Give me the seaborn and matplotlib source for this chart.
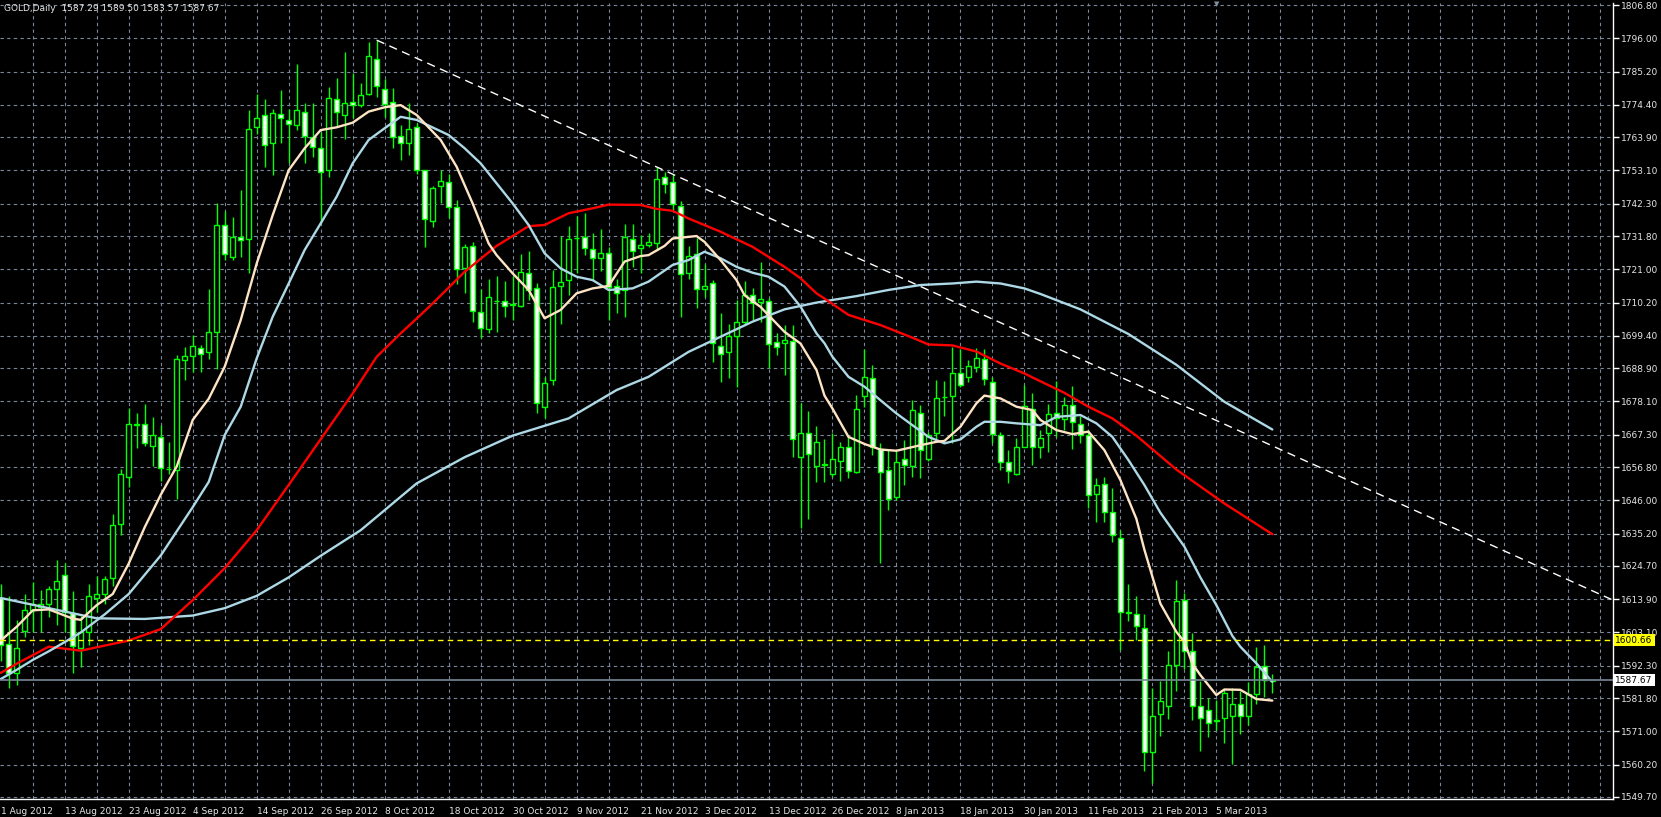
import numpy as np
import pandas as pd
import matplotlib
matplotlib.use("Agg")
import matplotlib.pyplot as plt
import seaborn as sns

# daily OHLC, one bar per trading day from 1 Aug 2012
opens = [1614.3, 1599.4, 1590.0, 1603.5, 1610.3, 1611.4, 1612.3, 1617.3, 1621.9, 1609.4,
         1598.2, 1603.1, 1614.4, 1615.6, 1620.8, 1638.3, 1653.6, 1670.5, 1670.8, 1663.8,
         1666.6, 1656.3, 1655.9, 1691.7, 1692.7, 1695.5, 1694.0, 1700.8, 1735.4, 1725.1,
         1731.4, 1731.0, 1767.3, 1771.0, 1761.9, 1771.3, 1769.5, 1767.8, 1772.0, 1763.8,
         1760.3, 1753.4, 1776.4, 1771.1, 1775.2, 1774.3, 1777.8, 1789.4, 1779.4, 1775.2,
         1764.3, 1761.9, 1767.3, 1753.4, 1736.6, 1748.0, 1749.5, 1741.1, 1721.3, 1728.7,
         1707.0, 1701.5, 1710.6, 1710.8, 1709.4, 1709.1, 1719.9, 1715.0, 1676.4, 1685.0,
         1715.7, 1717.5, 1731.1, 1731.6, 1727.7, 1724.6, 1726.2, 1715.7, 1714.3, 1731.0,
         1727.8, 1729.0, 1729.4, 1751.1, 1749.5, 1741.4, 1719.7, 1725.9, 1714.6, 1716.4,
         1696.2, 1694.0, 1699.3, 1704.0, 1712.6, 1710.4, 1710.8, 1697.4, 1697.0, 1697.7,
         1660.0, 1668.0, 1657.0, 1657.5, 1654.7, 1658.9, 1663.2, 1655.1, 1679.8, 1685.6,
         1662.6, 1655.8, 1647.2, 1659.5, 1657.3, 1674.2, 1659.3, 1667.7, 1679.4, 1680.0,
         1687.2, 1686.1, 1689.2, 1691.8, 1684.3, 1667.2, 1658.3, 1654.7, 1663.4, 1675.8,
         1663.4, 1668.0, 1674.2, 1672.3, 1677.1, 1670.8, 1667.2, 1647.9, 1651.2, 1642.3,
         1633.9, 1609.4, 1609.0, 1604.4, 1564.4, 1576.8, 1579.3, 1592.7, 1613.8, 1597.1,
         1579.4, 1578.0, 1574.5, 1575.5, 1576.0, 1580.0, 1576.0, 1583.0, 1592.3, 1587.29]
highs = [1618.8, 1615.0, 1607.0, 1615.6, 1619.6, 1617.0, 1618.2, 1626.5, 1625.7, 1616.5,
         1608.4, 1618.9, 1621.4, 1621.4, 1641.6, 1656.3, 1676.0, 1674.4, 1677.3, 1673.0,
         1670.4, 1664.9, 1693.1, 1695.7, 1699.7, 1696.5, 1714.6, 1742.4, 1740.0, 1737.9,
         1746.7, 1772.7, 1777.9, 1776.2, 1773.2, 1779.2, 1773.2, 1787.6, 1774.9, 1774.9,
         1765.7, 1780.1, 1783.0, 1791.6, 1784.8, 1781.6, 1794.9, 1795.4, 1782.7, 1779.7,
         1768.0, 1774.9, 1768.4, 1753.4, 1748.0, 1753.4, 1752.1, 1743.5, 1729.1, 1730.0,
         1714.5, 1717.7, 1718.8, 1717.2, 1718.8, 1725.9, 1727.0, 1716.6, 1686.1, 1720.8,
         1731.8, 1735.0, 1738.3, 1739.4, 1732.9, 1734.0, 1728.3, 1718.0, 1735.7, 1735.7,
         1732.1, 1732.7, 1754.3, 1752.7, 1752.1, 1743.2, 1728.5, 1731.3, 1722.7, 1717.5,
         1706.7, 1703.4, 1711.0, 1717.2, 1714.8, 1723.3, 1711.6, 1700.2, 1702.9, 1702.9,
         1677.5, 1675.0, 1670.0, 1665.9, 1667.8, 1665.1, 1666.6, 1680.2, 1695.1, 1689.9,
         1664.5, 1662.5, 1662.3, 1665.6, 1678.5, 1676.9, 1668.3, 1685.0, 1684.7, 1695.9,
         1695.0, 1691.5, 1695.3, 1695.1, 1686.1, 1668.1, 1662.3, 1666.1, 1683.6, 1680.7,
         1668.8, 1677.2, 1684.8, 1679.6, 1683.1, 1673.3, 1668.8, 1653.1, 1653.6, 1650.1,
         1636.3, 1618.8, 1614.9, 1609.0, 1585.0, 1587.4, 1597.2, 1620.1, 1615.8, 1603.0,
         1587.4, 1581.7, 1581.2, 1584.9, 1585.0, 1584.0, 1587.0, 1598.3, 1599.0, 1589.50]
lows = [1594.0, 1585.0, 1586.0, 1601.8, 1603.1, 1603.1, 1608.1, 1605.5, 1603.1, 1590.0,
        1592.0, 1599.2, 1609.7, 1612.3, 1618.2, 1634.6, 1650.4, 1663.0, 1663.8, 1657.1,
        1652.4, 1654.4, 1646.4, 1685.0, 1687.8, 1687.8, 1691.8, 1688.8, 1724.0, 1724.0,
        1725.1, 1719.9, 1764.9, 1754.1, 1751.6, 1762.1, 1755.4, 1766.2, 1755.4, 1757.6,
        1735.9, 1751.1, 1767.3, 1763.2, 1770.0, 1773.6, 1777.5, 1777.0, 1770.5, 1760.3,
        1756.5, 1758.1, 1751.9, 1728.3, 1734.6, 1742.6, 1737.5, 1716.1, 1713.2, 1703.8,
        1698.6, 1700.4, 1700.5, 1705.6, 1704.5, 1708.9, 1711.0, 1674.2, 1672.6, 1683.4,
        1703.2, 1712.6, 1719.7, 1725.6, 1717.5, 1720.5, 1704.5, 1706.7, 1705.6, 1721.8,
        1719.9, 1728.3, 1727.3, 1745.9, 1740.2, 1705.6, 1717.7, 1708.3, 1712.1, 1691.0,
        1684.5, 1685.6, 1682.9, 1702.9, 1704.5, 1704.0, 1689.1, 1693.2, 1686.7, 1660.0,
        1637.0, 1640.0, 1652.0, 1651.8, 1653.6, 1652.4, 1653.4, 1655.0, 1676.4, 1660.7,
        1625.5, 1642.8, 1646.1, 1651.0, 1653.7, 1653.4, 1658.9, 1665.6, 1673.5, 1664.5,
        1682.9, 1684.5, 1687.7, 1683.4, 1664.7, 1655.8, 1651.7, 1654.2, 1663.2, 1657.4,
        1659.9, 1661.8, 1666.6, 1668.8, 1662.8, 1664.7, 1643.4, 1639.0, 1639.0, 1632.5,
        1597.4, 1606.8, 1600.6, 1558.2, 1554.3, 1569.6, 1575.0, 1584.2, 1591.4, 1574.7,
        1564.7, 1569.3, 1571.4, 1567.1, 1560.5, 1570.0, 1573.0, 1580.0, 1582.0, 1583.57]
closes = [1599.2, 1590.0, 1598.0, 1610.3, 1612.3, 1612.3, 1617.3, 1619.9, 1609.7, 1598.8,
          1603.1, 1614.9, 1615.5, 1620.6, 1637.9, 1654.6, 1670.8, 1670.8, 1664.5, 1667.2,
          1656.6, 1656.1, 1691.8, 1692.7, 1696.0, 1693.5, 1700.6, 1735.4, 1725.9, 1731.6,
          1730.4, 1766.4, 1770.0, 1761.2, 1771.6, 1770.0, 1768.1, 1772.6, 1764.3, 1760.8,
          1752.5, 1776.7, 1772.0, 1774.9, 1774.3, 1777.7, 1790.2, 1780.5, 1774.7, 1763.8,
          1762.1, 1766.6, 1753.4, 1737.3, 1747.3, 1749.8, 1741.1, 1721.1, 1728.3, 1707.5,
          1701.8, 1711.9, 1710.8, 1709.1, 1709.6, 1720.2, 1714.3, 1677.5, 1684.2, 1715.3,
          1717.0, 1731.0, 1731.3, 1727.9, 1724.6, 1726.2, 1715.3, 1713.3, 1731.4, 1727.0,
          1728.8, 1729.9, 1750.2, 1748.7, 1742.1, 1719.4, 1725.4, 1714.6, 1715.5, 1697.2,
          1693.5, 1699.4, 1704.0, 1712.6, 1710.0, 1711.2, 1696.7, 1695.7, 1698.0, 1666.0,
          1668.0, 1661.0, 1665.0, 1657.7, 1659.3, 1663.4, 1655.4, 1675.8, 1686.1, 1663.4,
          1655.1, 1646.3, 1658.6, 1657.4, 1675.3, 1662.5, 1667.2, 1679.1, 1679.6, 1687.2,
          1683.6, 1689.7, 1692.1, 1685.3, 1667.4, 1658.3, 1655.5, 1663.2, 1676.6, 1663.4,
          1666.4, 1673.9, 1672.8, 1677.1, 1671.3, 1667.2, 1647.7, 1650.9, 1642.2, 1634.7,
          1609.6, 1609.8, 1605.2, 1564.2, 1576.0, 1581.0, 1592.7, 1613.3, 1597.1, 1579.3,
          1575.2, 1573.6, 1574.7, 1583.3, 1580.0, 1576.0, 1583.0, 1592.0, 1587.6, 1587.67]

# moving averages (bar index, price)
ma_fast_x = [0, 2, 4, 6, 9, 10, 12, 14, 16, 18, 20, 22, 24, 26, 28, 30, 32, 34, 36, 38, 40, 42, 44, 46,
             48, 50, 52, 55, 57, 59, 61, 62, 64, 66, 68, 70, 72, 74, 76, 78, 80, 81, 83, 84, 87, 88, 90,
             92, 93, 95, 96, 98, 100, 102, 103, 104, 106, 108, 110, 112, 115, 117, 118, 120, 122, 123,
             125, 127, 129, 130, 132, 134, 136, 138, 140, 142, 143, 145, 147, 148, 149, 150, 152, 153,
             155, 157, 159]
ma_fast_y = [1600.5, 1605.0, 1610.3, 1610.6, 1607.6, 1607.2, 1612.0, 1615.6, 1625.5, 1637.3, 1647.8,
             1657.0, 1672.1, 1679.0, 1689.4, 1704.5, 1722.9, 1738.6, 1753.2, 1760.3, 1766.2, 1767.1,
             1768.6, 1772.2, 1773.6, 1774.3, 1771.1, 1763.0, 1754.3, 1742.4, 1729.4, 1725.6, 1719.7,
             1714.3, 1705.1, 1707.8, 1713.2, 1714.8, 1715.6, 1723.5, 1725.3, 1725.6, 1728.6, 1731.0,
             1731.8, 1729.9, 1724.0, 1717.5, 1712.6, 1708.8, 1706.1, 1700.7, 1696.9, 1688.3, 1680.0,
             1675.8, 1666.6, 1664.3, 1662.5, 1662.1, 1663.9, 1665.0, 1665.3, 1669.9, 1677.5, 1680.0,
             1679.1, 1676.4, 1675.3, 1672.1, 1668.8, 1667.5, 1668.3, 1662.3, 1652.6, 1640.0, 1630.0,
             1612.5, 1603.3, 1600.1, 1593.0, 1589.3, 1582.8, 1584.6, 1584.5, 1581.5, 1581.0]
ma_mid_x = [0, 2, 4, 6, 8, 10, 13, 16, 20, 24, 26, 28, 30, 32, 34, 36, 38, 40, 42, 44, 46, 48, 50, 52,
            56, 58, 60, 62, 64, 66, 68, 70, 72, 74, 76, 79, 81, 84, 86, 88, 90, 92, 94, 96, 98, 100,
            102, 103, 104, 106, 108, 110, 112, 114, 116, 118, 120, 122, 123, 125, 127, 129, 130, 132,
            135, 137, 139, 141, 143, 145, 148, 150, 152, 154, 155, 157, 159]
ma_mid_y = [1588.0, 1591.0, 1594.2, 1597.0, 1600.0, 1603.1, 1609.0, 1615.6, 1628.1, 1643.8, 1652.0,
            1667.2, 1676.4, 1692.1, 1705.6, 1716.4, 1727.3, 1735.9, 1744.6, 1755.4, 1763.0, 1766.8,
            1770.5, 1769.5, 1764.6, 1760.3, 1755.4, 1748.9, 1742.4, 1735.4, 1726.2, 1721.3, 1718.6,
            1717.5, 1714.3, 1714.8, 1717.0, 1722.4, 1724.0, 1726.7, 1724.6, 1721.8, 1719.9, 1718.6,
            1715.4, 1708.9, 1700.2, 1697.0, 1692.6, 1686.1, 1682.9, 1678.5, 1674.2, 1670.4, 1666.6,
            1664.5, 1665.8, 1669.9, 1671.5, 1671.5, 1671.0, 1670.6, 1670.4, 1673.1, 1673.7, 1671.0,
            1666.6, 1659.1, 1651.0, 1642.0, 1631.0, 1621.0, 1612.0, 1602.0, 1598.5, 1593.1, 1587.1]
ma_red_x = [0, 2, 6, 10, 16, 20, 24, 28, 32, 37, 44, 47, 50, 52, 54, 58, 62, 66, 68, 71, 74, 76, 80,
            82, 84, 86, 90, 94, 98, 100, 102, 103, 106, 110, 114, 116, 119, 122, 125, 128, 129, 133,
            136, 139, 142, 147, 153, 159]
ma_red_y = [1590.0, 1593.0, 1598.5, 1597.2, 1600.5, 1604.2, 1613.6, 1624.0, 1636.3, 1654.7, 1680.7,
            1692.6, 1700.2, 1705.0, 1709.9, 1720.2, 1728.6, 1735.0, 1735.4, 1739.2, 1740.8, 1742.0,
            1741.9, 1740.6, 1740.0, 1737.5, 1733.2, 1728.3, 1721.8, 1718.1, 1713.2, 1711.5, 1706.2,
            1702.9, 1698.8, 1696.6, 1696.3, 1694.3, 1690.4, 1687.2, 1685.9, 1680.9, 1676.4, 1672.6,
            1667.0, 1656.0, 1645.0, 1635.0]
ma_slow_x = [0, 6, 12, 18, 24, 28, 32, 36, 40, 45, 52, 58, 64, 71, 77, 81, 86, 90, 94, 98, 102, 107,
             111, 115, 119, 122, 125, 128, 130, 135, 141, 147, 153, 159]
ma_slow_y = [1614.3, 1611.0, 1607.7, 1607.5, 1608.6, 1611.0, 1615.0, 1621.0, 1628.0, 1636.3, 1651.5,
             1660.0, 1667.0, 1672.6, 1681.8, 1686.1, 1694.2, 1699.1, 1704.0, 1708.0, 1710.2, 1712.3,
             1714.3, 1715.9, 1716.4, 1717.0, 1716.4, 1714.8, 1713.0, 1708.0, 1700.0, 1690.0, 1678.0,
             1669.0]

# trend line drawn from the October high
trend_x = [47, 201.6]
trend_y = [1795.4, 1613.6]

price_ticks = [1806.80, 1796.00, 1785.20, 1774.40, 1763.90, 1753.10, 1742.30, 1731.80, 1721.00,
               1710.20, 1699.40, 1688.90, 1678.10, 1667.30, 1656.80, 1646.00, 1635.20, 1624.70,
               1613.90, 1603.10, 1592.30, 1581.80, 1571.00, 1560.20, 1549.70]
date_labels = ["1 Aug 2012", "13 Aug 2012", "23 Aug 2012", "4 Sep 2012", "14 Sep 2012",
               "26 Sep 2012", "8 Oct 2012", "18 Oct 2012", "30 Oct 2012", "9 Nov 2012",
               "21 Nov 2012", "3 Dec 2012", "13 Dec 2012", "26 Dec 2012", "8 Jan 2013",
               "18 Jan 2013", "30 Jan 2013", "11 Feb 2013", "21 Feb 2013", "5 Mar 2013"]
bid_line = 1587.67
alert_line = 1600.66

sns.set_style("dark")
plt.rcParams["font.family"] = ["DejaVu Sans"]

fig = plt.figure(figsize=(16.61, 8.17), dpi=100, facecolor="black")
ax = fig.add_axes([0, 18 / 817, 1613 / 1661, 796 / 817])
ax.set_facecolor("black")

n = len(closes)
idx = np.arange(n)
o = np.array(opens); c = np.array(closes); h = np.array(highs); l = np.array(lows)

grid_col = "#7b8798"
for x in np.arange(4, 202, 4):
    ax.axvline(x, color=grid_col, lw=0.8, ls=(0, (3, 3)), zorder=0)
for p in price_ticks:
    ax.axhline(p, color=grid_col, lw=0.8, ls=(0, (3, 3)), zorder=0)

# candles
ax.vlines(idx, l, h, color="#00ff00", lw=1, zorder=2)
bull = c >= o
body_lo = np.minimum(o, c)
body_h = np.maximum(np.abs(c - o), 0.05)
ax.bar(idx[bull], body_h[bull], bottom=body_lo[bull], width=0.62, color="black",
       edgecolor="#00ff00", linewidth=1, zorder=3)
ax.bar(idx[~bull], body_h[~bull], bottom=body_lo[~bull], width=0.62, color="white",
       edgecolor="#00ff00", linewidth=1, zorder=3)

# moving averages
ma = pd.concat([
    pd.DataFrame({"bar": ma_slow_x, "price": ma_slow_y, "ma": "slow"}),
    pd.DataFrame({"bar": ma_red_x, "price": ma_red_y, "ma": "red"}),
    pd.DataFrame({"bar": ma_mid_x, "price": ma_mid_y, "ma": "mid"}),
    pd.DataFrame({"bar": ma_fast_x, "price": ma_fast_y, "ma": "fast"}),
])
sns.lineplot(data=ma, x="bar", y="price", hue="ma", sort=False, estimator=None,
             palette={"slow": "#add8e6", "red": "#ff0000", "mid": "#add8e6", "fast": "#ffe4c4"},
             linewidth=1.7, legend=False, ax=ax, zorder=4)

ax.plot(trend_x, trend_y, color="white", lw=1, ls=(0, (6, 4)), zorder=5)
ax.axhline(alert_line, color="#ffff00", lw=1, ls=(0, (4, 3)), zorder=5)
ax.axhline(bid_line, color="#778899", lw=1.2, zorder=5)

ax.set_xlim(-0.1, 201.6)
ax.set_ylim(1549.05, 1807.45)
ax.set_xlabel("")
ax.set_ylabel("")

ax.yaxis.tick_right()
ax.set_yticks(price_ticks)
ax.set_yticklabels([f"{p:.2f}" for p in price_ticks])
ax.set_xticks(np.arange(len(date_labels)) * 8)
ax.set_xticklabels(date_labels)
ax.tick_params(axis="both", colors="white", labelcolor="#e6e6e6", labelsize=6.5, length=4,
               width=1, direction="out", pad=2)
for t in ax.get_xticklabels():
    t.set_horizontalalignment("left")
for s in ["top", "left"]:
    ax.spines[s].set_visible(False)
for s in ["right", "bottom"]:
    ax.spines[s].set_visible(True)
    ax.spines[s].set_color("white")
    ax.spines[s].set_linewidth(1)

# price tags on the right, drawn over the axis labels
ax.text(1.0015, alert_line, f"{alert_line:.2f}", transform=ax.get_yaxis_transform(),
        fontsize=6.5, color="black", va="center", ha="left", clip_on=False,
        bbox=dict(boxstyle="square,pad=0.2", fc="#ffff00", ec="none"), zorder=10)
ax.text(1.0015, bid_line, f"{bid_line:.2f}", transform=ax.get_yaxis_transform(),
        fontsize=6.5, color="black", va="center", ha="left", clip_on=False,
        bbox=dict(boxstyle="square,pad=0.2", fc="white", ec="none"), zorder=10)

fig.text(4 / 1661, 1 - 4 / 817, "GOLD,Daily  1587.29 1589.50 1583.57 1587.67",
         color="#e6e6e6", fontsize=6.5, va="top", ha="left")
fig.text(1217 / 1661, 1 - 1 / 817, "\u25bc", color="#8090a0", fontsize=5, va="top", ha="center")

fig.savefig("out.png", dpi=100, facecolor="black")
